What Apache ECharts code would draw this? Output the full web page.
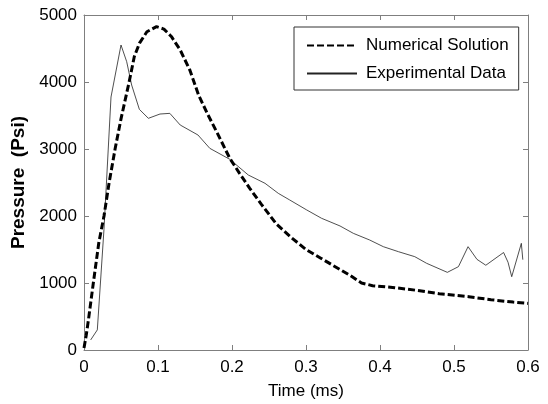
<!DOCTYPE html>
<html>
<head>
<meta charset="utf-8">
<script src="https://cdn.jsdelivr.net/npm/echarts@6/dist/echarts.min.js"></script>
<style>
html,body{margin:0;padding:0;background:#fff;}
#chart{width:548px;height:404px;}
</style>
</head>
<body>
<div id="chart"></div>
<script>
// Numerical Solution (time in ms, pressure in psi)
const numT = [0, 0.003, 0.006, 0.0126, 0.02, 0.027, 0.034, 0.042, 0.05, 0.061, 0.068, 0.075, 0.085, 0.098, 0.108, 0.118, 0.13, 0.143, 0.155, 0.168, 0.18, 0.197, 0.21, 0.224, 0.24, 0.26, 0.28, 0.30, 0.32, 0.34, 0.36, 0.375, 0.39, 0.42, 0.45, 0.48, 0.52, 0.55, 0.58, 0.6];
const numP = [30, 220, 450, 1000, 1600, 2000, 2500, 3000, 3450, 4000, 4380, 4580, 4750, 4826, 4790, 4680, 4478, 4179, 3800, 3500, 3240, 2861, 2640, 2413, 2170, 1880, 1680, 1500, 1370, 1240, 1110, 1000, 960, 930, 890, 840, 795, 750, 715, 695];
// Experimental Data
const expT = [0.009, 0.018, 0.027, 0.0365, 0.05, 0.0577, 0.0644, 0.0748, 0.087, 0.1027, 0.116, 0.13, 0.154, 0.170, 0.197, 0.222, 0.2446, 0.2626, 0.278, 0.301, 0.321, 0.346, 0.364, 0.386, 0.4045, 0.425, 0.447, 0.463, 0.491, 0.506, 0.519, 0.531, 0.543, 0.567, 0.573, 0.578, 0.591, 0.593];
const expP = [150, 300, 1800, 3776, 4552, 4303, 3955, 3592, 3458, 3522, 3532, 3358, 3209, 3010, 2846, 2612, 2488, 2338, 2239, 2090, 1966, 1851, 1741, 1642, 1542, 1467, 1393, 1294, 1159, 1244, 1542, 1353, 1265, 1455, 1310, 1094, 1592, 1348];
const seriesNames = ['Numerical Solution', 'Experimental Data'];
const xTitle = 'Time (ms)';
const yTitle = 'Pressure  (Psi)';

const FONT = 'Liberation Sans, Arial, sans-serif';
const axisGray = '#7f7f7f';
const zip = (a, b) => a.map((v, i) => [v, b[i]]);

function axisBase(extra) {
  return Object.assign({
    type: 'value',
    axisLine: { show: true, onZero: false, lineStyle: { color: axisGray, width: 1 } },
    axisTick: { show: true, inside: true, length: 5, lineStyle: { color: axisGray } },
    splitLine: { show: false }
  }, extra);
}

const chart = echarts.init(document.getElementById('chart'), null, { renderer: 'canvas' });
chart.setOption({
  animation: false,
  backgroundColor: '#fff',
  grid: { left: 84, right: 20, top: 15, bottom: 54, containLabel: false, outerBoundsMode: 'none' },
  legend: {
    data: seriesNames,
    orient: 'vertical',
    left: 294, top: 27,
    itemWidth: 50, itemHeight: 16, itemGap: 11,
    padding: [10, 10, 8, 12],
    borderColor: '#333', borderWidth: 1, backgroundColor: '#fff',
    itemStyle: { opacity: 0, borderWidth: 0 },
    textStyle: { fontSize: 17, color: '#000', fontFamily: FONT, padding: [0, 0, 0, 4] }
  },
  xAxis: [
    axisBase({
      min: 0, max: 0.6, interval: 0.1, position: 'bottom',
      axisLabel: { color: '#000', fontSize: 17, fontFamily: FONT, margin: 9, formatter: v => String(+v.toFixed(1)) },
      name: xTitle, nameLocation: 'middle', nameGap: 33,
      nameTextStyle: { color: '#000', fontSize: 17, fontFamily: FONT }
    }),
    axisBase({ min: 0, max: 0.6, interval: 0.1, position: 'top', axisLabel: { show: false } })
  ],
  yAxis: [
    axisBase({
      min: 0, max: 5000, interval: 1000, position: 'left',
      axisLabel: { color: '#000', fontSize: 17, fontFamily: FONT, margin: 7, formatter: v => String(v) },
      name: yTitle, nameLocation: 'middle', nameGap: 53,
      nameTextStyle: { color: '#000', fontSize: 19, fontWeight: 'bold', fontFamily: FONT }
    }),
    axisBase({ min: 0, max: 5000, interval: 1000, position: 'right', axisLabel: { show: false } })
  ],
  series: [
    {
      name: seriesNames[0], type: 'line', data: zip(numT, numP),
      xAxisIndex: 0, yAxisIndex: 0, symbol: 'none', z: 3,
      itemStyle: { color: '#000' },
      lineStyle: { color: '#000', width: 3, type: [7, 3] }
    },
    {
      name: seriesNames[1], type: 'line', data: zip(expT, expP),
      xAxisIndex: 0, yAxisIndex: 0, symbol: 'none', z: 2,
      itemStyle: { color: '#222' },
      lineStyle: { color: '#222', width: 0.8 }
    }
  ]
});
</script>
</body>
</html>
